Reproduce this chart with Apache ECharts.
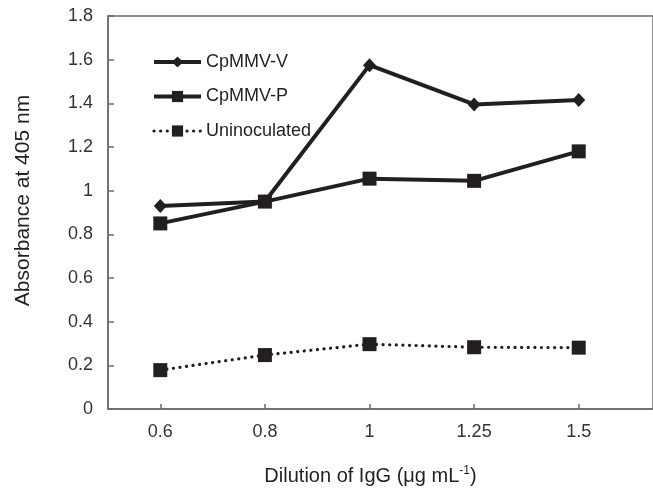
<!DOCTYPE html>
<html>
<head>
<meta charset="utf-8">
<script src="https://cdn.jsdelivr.net/npm/echarts@6/dist/echarts.min.js"></script>
<style>
  html, body { margin: 0; padding: 0; background: #fff; }
  #chart { width: 653px; height: 491px; }
</style>
</head>
<body>
<div id="chart"></div>
<script>
// 横轴类别 (IgG 稀释度)
var doses = ['0.6', '0.8', '1', '1.25', '1.5'];
// 各系列吸光度
var cpmmvV = [0.93, 0.95, 1.575, 1.395, 1.415];
var cpmmvP = [0.85, 0.95, 1.055, 1.045, 1.18];
var uninoculated = [0.178, 0.247, 0.297, 0.283, 0.281];
var yTicks = [0, 0.2, 0.4, 0.6, 0.8, 1, 1.2, 1.4, 1.6, 1.8];

var ink = '#231f20';
var axisGray = '#6b6b6b';
var font = 'Liberation Sans, Arial, sans-serif';

function toPairs(arr) {
  return arr.map(function (v, i) { return [i, v]; });
}

var chart = echarts.init(document.getElementById('chart'), null, { renderer: 'canvas' });

var option = {
  animation: false,
  backgroundColor: '#fff',
  textStyle: { fontFamily: font },
  grid: {
    left: 108, top: 16, bottom: 82, right: -3,
    show: true, borderColor: axisGray, borderWidth: 1.5
  },
  legend: {
    orient: 'vertical',
    left: 147, top: 48,
    itemWidth: 47, itemHeight: 14, itemGap: 16.5,
    textStyle: { fontSize: 18, color: ink, fontFamily: font },
    data: [
      { name: 'CpMMV-V', lineStyle: { width: 4 } },
      { name: 'CpMMV-P', lineStyle: { width: 4 } },
      { name: 'Uninoculated', lineStyle: { width: 3.2 } }
    ]
  },
  xAxis: {
    type: 'value',
    min: -0.5, max: 4.71,
    name: 'Dilution of IgG (μg mL{sup|-1})',
    nameLocation: 'middle',
    nameGap: 56,
    nameTextStyle: {
      fontSize: 20, color: ink, fontFamily: font, padding: [0, 20, 0, 0],
      rich: { sup: { fontSize: 12, verticalAlign: 'top', padding: [0, 0, 10, 0], color: ink } }
    },
    axisLine: { show: true, onZero: false, lineStyle: { color: axisGray, width: 1.5 } },
    axisTick: { show: true, inside: true, length: 5, customValues: [0, 1, 2, 3, 4], lineStyle: { color: axisGray, width: 1.5 } },
    axisLabel: {
      customValues: [0, 1, 2, 3, 4],
      margin: 14, fontSize: 18, color: '#333',
      formatter: function (v) { return doses[Math.round(v)]; }
    },
    splitLine: { show: false }
  },
  yAxis: {
    type: 'value',
    min: 0, max: 1.8, interval: 0.2,
    name: 'Absorbance at 405 nm',
    nameLocation: 'middle',
    nameGap: 74,
    nameTextStyle: { fontSize: 21, color: ink, fontFamily: font, padding: [0, 0, 0, 24] },
    axisLine: { show: true, onZero: false, lineStyle: { color: axisGray, width: 1.5 } },
    axisTick: { show: true, inside: true, length: 6, lineStyle: { color: axisGray, width: 1.5 } },
    axisLabel: {
      margin: 15, fontSize: 18, color: '#333',
      formatter: function (v) {
        var t = yTicks.find(function (k) { return Math.abs(k - v) < 1e-6; });
        return t === undefined ? '' : String(t);
      }
    },
    splitLine: { show: false }
  },
  series: [
    {
      name: 'CpMMV-V', type: 'line', data: toPairs(cpmmvV),
      symbol: 'diamond', symbolSize: [13, 14],
      lineStyle: { color: ink, width: 4 },
      itemStyle: { color: ink }
    },
    {
      name: 'CpMMV-P', type: 'line', data: toPairs(cpmmvP),
      symbol: 'rect', symbolSize: 14,
      lineStyle: { color: ink, width: 4 },
      itemStyle: { color: ink }
    },
    {
      name: 'Uninoculated', type: 'line', data: toPairs(uninoculated),
      symbol: 'rect', symbolSize: 14,
      lineStyle: { color: ink, width: 3.2, type: [0.1, 6.5], cap: 'round' },
      itemStyle: { color: ink }
    }
  ]
};

chart.setOption(option);
</script>
</body>
</html>
